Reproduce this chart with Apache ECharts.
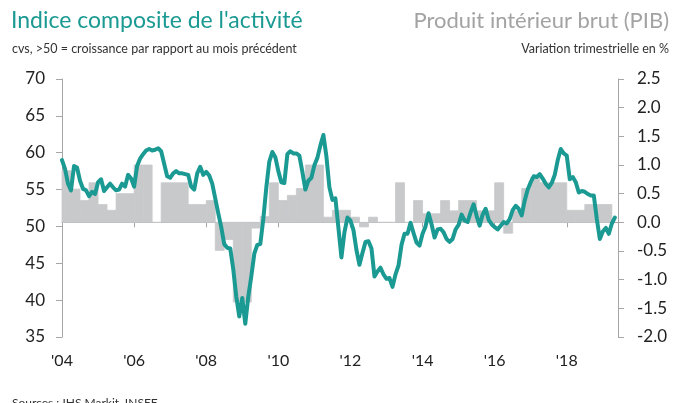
<!DOCTYPE html>
<html>
<head>
<meta charset="utf-8">
<script src="https://cdn.jsdelivr.net/npm/echarts@6/dist/echarts.min.js"></script>
<style>
html,body{margin:0;padding:0;background:#fff;}
#chart{width:678px;height:403px;}
</style>
</head>
<body>
<div id="chart"></div>
<script>
// ---- Data ----
// Composite PMI, monthly from Jan 2004 to May 2019
var pmiStartYear = 2004;
var pmiValues = [
59.0,57.8,55.8,54.9,58.2,58.0,56.2,55.1,54.9,54.1,54.7,54.4,
56.0,56.4,54.8,55.3,55.8,55.3,54.9,55.0,55.8,55.4,57.0,56.5,
55.4,58.2,59.2,59.8,60.3,60.5,60.3,60.4,60.6,60.2,58.5,56.8,
56.6,57.2,57.5,57.2,57.2,57.1,57.0,55.4,55.0,57.2,58.1,57.0,
57.4,56.9,55.8,53.8,51.8,49.9,47.6,47.1,47.0,44.2,40.5,37.8,
40.3,36.8,40.5,43.2,46.3,47.5,47.6,51.0,55.3,58.8,60.1,59.4,
57.5,56.0,55.9,59.8,60.2,59.9,59.9,59.6,57.4,55.0,56.2,56.6,
58.3,59.3,61.0,62.4,59.5,55.3,53.6,53.8,49.8,45.8,49.2,51.2,
50.8,49.5,46.8,44.8,46.4,47.9,48.0,47.0,43.2,43.9,44.4,43.5,
42.9,43.0,41.8,43.5,44.7,47.5,49.0,49.0,50.5,49.1,47.8,47.4,
49.0,50.0,51.8,50.3,48.5,49.6,49.7,49.2,48.3,47.9,48.3,49.6,
50.2,51.6,50.8,50.6,51.9,53.0,51.4,50.1,51.6,52.4,50.9,50.3,
49.9,49.6,50.1,50.6,50.4,51.0,52.2,52.8,52.4,51.5,53.5,55.0,
56.0,56.8,56.7,57.1,56.5,55.8,55.3,55.9,57.0,59.0,60.5,59.9,
59.6,56.4,56.7,56.0,54.6,54.8,54.7,54.4,54.2,54.2,51.0,48.3,
49.3,49.8,49.0,50.4,51.2
];
// GDP, quarter-on-quarter % change, from 2004 Q1 to 2019 Q1
var gdpStartYear = 2004;
var gdpValues = [
0.90,0.58,0.38,0.69,
0.31,0.21,0.50,0.50,
1.00,1.00,0.00,0.69,
0.69,0.69,0.31,0.31,
0.38,-0.49,-0.30,-1.39,
-1.39,-0.10,0.10,0.69,
0.38,0.47,0.59,1.00,
1.00,0.09,0.21,0.21,
0.09,-0.08,0.09,0.00,
0.00,0.69,0.00,0.38,
0.15,0.15,0.38,0.20,
0.38,0.38,0.20,0.20,
0.69,-0.19,0.20,0.59,
0.79,0.69,0.69,0.69,
0.21,0.21,0.31,0.31,
0.31
];
var xTickYears = [2004,2006,2008,2010,2012,2014,2016,2018];
var xTickLabels = ["'04","'06","'08","'10","'12","'14","'16","'18"];
var leftTicks = [35,40,45,50,55,60,65,70];
var rightTicks = [-2.0,-1.5,-1.0,-0.5,0.0,0.5,1.0,1.5,2.0,2.5];

// ---- Build series data ----
var pmiData = pmiValues.map(function(v,i){ return [pmiStartYear + i/12, v]; });
var gdpData = gdpValues.map(function(v,i){ return [gdpStartYear + i/4, v]; });

var TEAL = '#1a9a92';
var GREY_BAR = '#c8c9cb';
var AXIS = '#a6a6a6';
var FONT = 'Lato';

var chart = echarts.init(document.getElementById('chart'), null, {renderer:'canvas'});
chart.setOption({
  animation: false,
  backgroundColor: '#ffffff',
  textStyle: { fontFamily: FONT },
  title: [
    { text: "Indice composite de l'activité", left: 6, top: 4,
      textStyle: { fontFamily: FONT, fontSize: 23, fontWeight: 'normal', color: TEAL } },
    { text: "cvs, >50 = croissance par rapport au mois précédent", left: 7, top: 37,
      textStyle: { fontFamily: FONT, fontSize: 12.5, fontWeight: 'normal', color: '#333' } },
    { text: "Produit intérieur brut (PIB)", right: 4, top: 5,
      textStyle: { fontFamily: FONT, fontSize: 22, fontWeight: 'normal', color: '#a3a3a3' } },
    { text: "Variation trimestrielle en %", right: 4, top: 37,
      textStyle: { fontFamily: FONT, fontSize: 12.5, fontWeight: 'normal', color: '#333' } },
    { text: "Sources : IHS Markit, INSEE", left: 7, top: 392,
      textStyle: { fontFamily: FONT, fontSize: 12, fontWeight: 'normal', color: '#333' } }
  ],
  grid: { left: 62, right: 60, top: 79, bottom: 66, containLabel: false },
  xAxis: {
    type: 'value',
    min: 2004,
    max: 2004 + 557/36.12,
    interval: 2,
    axisLine: { show: true, lineStyle: { color: AXIS, width: 1 } },
    axisTick: { show: true, length: 5, lineStyle: { color: AXIS }, customValues: xTickYears },
    splitLine: { show: false },
    axisLabel: {
      customValues: xTickYears,
      color: '#222', fontSize: 16, fontFamily: FONT, margin: 16,
      formatter: function(v){ var k = xTickYears.indexOf(Math.round(v)); return (Math.abs(v-Math.round(v))<1e-6 && k>=0) ? xTickLabels[k] : ''; }
    }
  },
  yAxis: [
    { type: 'value', min: 35, max: 70, interval: 5, position: 'left',
      axisLine: { show: true, lineStyle: { color: AXIS } },
      axisTick: { show: true, length: 6, lineStyle: { color: AXIS } },
      splitLine: { show: false },
      axisLabel: { color: '#222', fontSize: 17, fontFamily: FONT, margin: 17,
        formatter: function(v){ return String(v); } } },
    { type: 'value', min: -2.0, max: 2.5, interval: 0.5, position: 'right',
      axisLine: { show: true, lineStyle: { color: AXIS } },
      axisTick: { show: true, length: 6, lineStyle: { color: AXIS } },
      splitLine: { show: false },
      axisLabel: { color: '#222', fontSize: 17, fontFamily: FONT, margin: 19,
        formatter: function(v){ return v.toFixed(1); } } }
  ],
  series: [
    { type: 'custom', name: 'PIB', xAxisIndex: 0, yAxisIndex: 1, z: 1,
      data: gdpData,
      renderItem: function(params, api){
        var t0 = api.value(0), v = api.value(1);
        var p0 = api.coord([t0, v]);
        var p1 = api.coord([t0 + 0.25, 0]);
        var x = Math.min(p0[0], p1[0]), y = Math.min(p0[1], p1[1]);
        return { type: 'rect',
          shape: { x: x, y: y, width: Math.abs(p1[0]-p0[0]), height: Math.abs(p1[1]-p0[1]) },
          style: { fill: GREY_BAR, stroke: GREY_BAR, lineWidth: 0.8 } };
      },
      encode: { x: 0, y: 1 }
    },
    { type: 'line', name: 'PMI', xAxisIndex: 0, yAxisIndex: 0, z: 3,
      data: pmiData, showSymbol: false, symbol: 'none', smooth: false,
      lineStyle: { color: TEAL, width: 4, join: 'round', cap: 'round' } }
  ]
});
</script>
</body>
</html>
